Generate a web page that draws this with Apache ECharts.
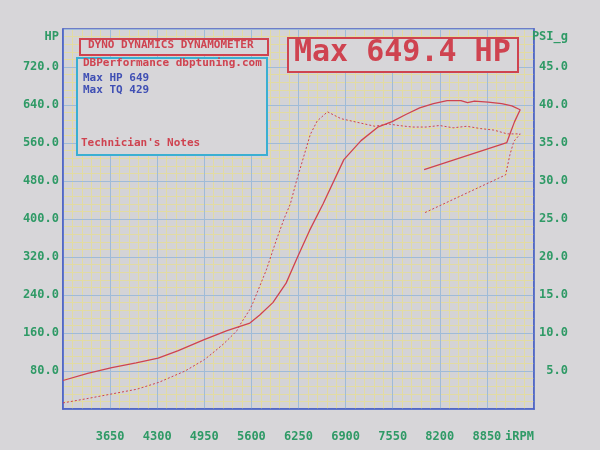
<!DOCTYPE html>
<html>
<head>
<meta charset="utf-8">
<script src="https://cdn.jsdelivr.net/npm/echarts@6/dist/echarts.min.js"></script>
<style>
html,body{margin:0;padding:0;background:#d7d6d9;}
#c{width:600px;height:450px;}
</style>
</head>
<body>
<div id="c"></div>
<script>
// ---- data read from the dyno sheet ----
const rpmHP = [3000,3340,3674,4009,4313,4591,4948,5264,5579,5715,5896,6079,6240,6403,6590,6876,7113,7352,7541,7731,7922,8112,8301,8491,8583,8678,8866,9054,9194,9309,9232,9178,9125,7983];
const hpValues = [60,75,87,97,107,123,146,165,181,198,224,265,321,376,432,525,565,594,605,620,634,643,649,649.4,645,648,646,643,638,630,605,583,561,504];
const rpmBoost = [3000,3351,3684,4018,4320,4685,4952,5108,5220,5400,5444,5579,5623,5806,5943,6058,6138,6222,6412,6508,6650,6837,7071,7304,7494,7634,7822,8009,8197,8385,8571,8760,8946,9131,9310,9221,9166,9108,7986];
const boostPsi = [0.8,1.4,2.0,2.6,3.5,5.0,6.5,7.7,8.6,10.3,11.1,13.1,14.0,18.3,22.2,25.2,27.0,30.0,36.1,37.9,39.1,38.2,37.7,37.2,37.5,37.3,37.1,37.1,37.3,37.0,37.2,36.9,36.7,36.2,36.2,35.2,33.4,30.8,25.8];
const xRange = [3000, 9500, 650];
const hpRange = [0, 800, 80];
const psiRange = [0, 50, 5];
const xEndLabel = 'iRPM';
const hpAxisName = 'HP';
const psiAxisName = 'PSI_g';
const headerTitle = 'DYNO DYNAMICS DYNAMOMETER';
const infoLines = ['DBPerformance dbptuning.com', 'Max HP 649', 'Max TQ 429', "Technician's Notes"];
const maxText = 'Max 649.4 HP';

const FONT = '"DejaVu Sans Mono", "Liberation Mono", monospace';
const RED = '#cf4350';
const BLUE = '#3f4fb4';
const GREEN = '#2f9a66';
const BG = '#d7d6d9';
const MAJOR = '#9fbbd8';
const MINOR = '#e2dba2';
const BORDER = '#4b60c4';

const chart = echarts.init(document.getElementById('c'));
const lbl = {color: GREEN, fontFamily: FONT, fontWeight: 'bold', fontSize: 12};
const nameRich = {n: {color: GREEN, fontFamily: FONT, fontWeight: 'bold', fontSize: 12, padding: [16, 0, 0, 0]}};
const hidden = {axisLine: {show: false}, axisTick: {show: false}, axisLabel: {show: false}, splitLine: {show: false}};
const minorOnly = Object.assign({}, hidden, {z: 0, minorTick: {show: false, splitNumber: 5},
  minorSplitLine: {show: true, lineStyle: {color: MINOR, width: 1}}});

chart.setOption({
  backgroundColor: BG,
  animation: false,
  grid: {left: 63, right: 66, top: 29, bottom: 41, show: true, backgroundColor: '#d4d3d6', borderColor: BORDER, borderWidth: 1.5},
  xAxis: [{
    type: 'value', min: xRange[0], max: xRange[1], interval: xRange[2], z: 2,
    axisLine: {show: true, lineStyle: {color: BORDER, width: 1.5}},
    axisTick: {show: false},
    axisLabel: Object.assign({}, lbl, {margin: 22, alignMaxLabel: 'right',
      formatter: v => v === xRange[1] ? xEndLabel : (v === xRange[0] ? '' : String(v))}),
    splitLine: {show: true, lineStyle: {color: MAJOR, width: 1, type: 'solid'}}
  }, Object.assign({type: 'value', min: xRange[0], max: xRange[1], interval: xRange[2], position: 'top'}, minorOnly)],
  yAxis: [{
    type: 'value', min: hpRange[0], max: hpRange[1], interval: hpRange[2], position: 'left', z: 2,
    axisLine: {show: true, lineStyle: {color: BORDER, width: 1.5}},
    axisTick: {show: false},
    axisLabel: Object.assign({}, lbl, {margin: 4, rich: nameRich,
      formatter: v => v === hpRange[1] ? '{n|' + hpAxisName + '}' : (v === 0 ? '' : v.toFixed(1))}),
    splitLine: {show: true, lineStyle: {color: MAJOR, width: 1, type: 'solid'}}
  }, {
    type: 'value', min: psiRange[0], max: psiRange[1], interval: psiRange[2], position: 'right', z: 2,
    axisLine: {show: true, lineStyle: {color: BORDER, width: 1.5}},
    axisTick: {show: false},
    axisLabel: Object.assign({}, lbl, {margin: 34, align: 'right', rich: nameRich,
      formatter: v => v === psiRange[1] ? '{n|' + psiAxisName + '}' : (v === 0 ? '' : v.toFixed(1))}),
    splitLine: {show: false}
  }, Object.assign({type: 'value', min: hpRange[0], max: hpRange[1], interval: hpRange[2], position: 'left'}, minorOnly)],
  series: [{
    type: 'line', yAxisIndex: 0, showSymbol: false, symbol: 'none',
    data: rpmHP.map((r, i) => [r, hpValues[i]]),
    lineStyle: {color: RED, width: 1.3}, z: 5
  }, {
    type: 'line', yAxisIndex: 1, showSymbol: false, symbol: 'none',
    data: rpmBoost.map((r, i) => [r, boostPsi[i]]),
    lineStyle: {color: RED, width: 1, type: [2, 2]}, z: 5
  }],
  graphic: [
    {type: 'rect', left: 79, top: 38, shape: {width: 188, height: 16}, style: {fill: BG, stroke: RED, lineWidth: 2}, z: 10},
    {type: 'text', left: 88, top: 40, style: {text: headerTitle, fill: RED, font: 'bold 11px ' + FONT}, z: 11},
    {type: 'rect', left: 76, top: 57, shape: {width: 190, height: 97}, style: {fill: BG, stroke: '#3aafd2', lineWidth: 2}, z: 10},
    {type: 'text', left: 83, top: 58, style: {text: infoLines[0], fill: RED, font: 'bold 11px ' + FONT}, z: 11},
    {type: 'text', left: 83, top: 73, style: {text: infoLines[1], fill: BLUE, font: 'bold 11px ' + FONT}, z: 11},
    {type: 'text', left: 83, top: 85, style: {text: infoLines[2], fill: BLUE, font: 'bold 11px ' + FONT}, z: 11},
    {type: 'text', left: 81, top: 138, style: {text: infoLines[3], fill: RED, font: 'bold 11px ' + FONT}, z: 11},
    {type: 'rect', left: 287, top: 37, shape: {width: 230, height: 34}, style: {fill: BG, stroke: RED, lineWidth: 2}, z: 10},
    {type: 'text', left: 294, top: 38, style: {text: maxText, fill: RED, font: 'bold 30px ' + FONT}, z: 11}
  ]
});
</script>
</body>
</html>
